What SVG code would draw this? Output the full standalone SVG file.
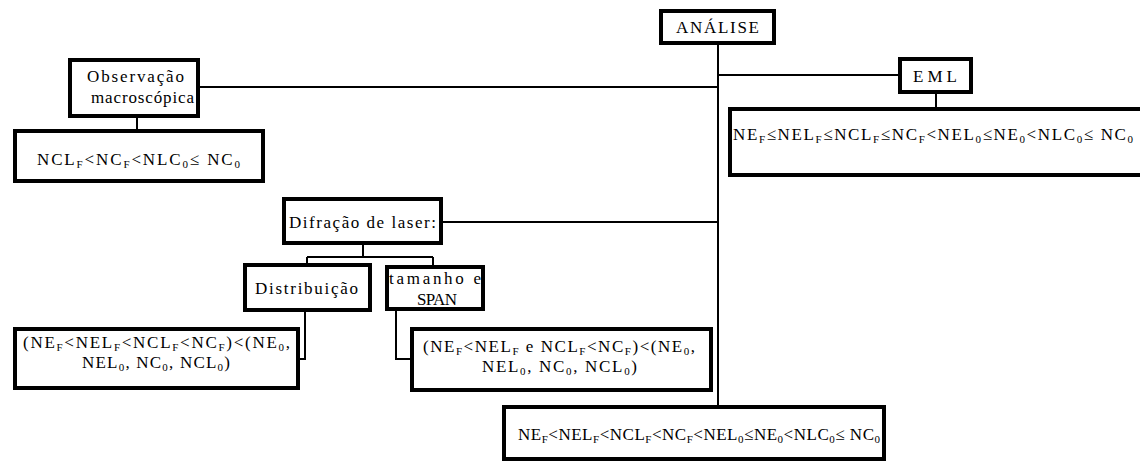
<svg xmlns="http://www.w3.org/2000/svg" width="1140" height="464" viewBox="0 0 1140 464" font-family="'Liberation Serif', 'Times New Roman', 'DejaVu Serif', serif" font-size="17">
<style>
.box{fill:#fff;stroke:#000;stroke-width:4}
.ln{fill:none;stroke:#000;stroke-width:2}
text{font-family:'Liberation Serif','Times New Roman','DejaVu Serif',serif;font-size:17px;fill:#000}
.s{font-size:11px}
</style>
<rect width="1140" height="464" fill="#fff"/>
<g id="connectors">
<path class="ln" d="M718,45 V407" stroke-width="2.5"/>
<path class="ln" d="M200,87 H718"/>
<path class="ln" d="M718,75 H898"/>
<path class="ln" d="M443,222 H718"/>
<path class="ln" d="M137,118 V129"/>
<path class="ln" d="M936,94 V107"/>
<path class="ln" d="M363,245 V257 M307,257 H433 M307,257 V263 M433,257 V265"/>
<path class="ln" d="M305,312 V359 H300"/>
<path class="ln" d="M396,311 V359 H410"/>
</g>
<g id="analise">
<rect class="box" x="661" y="11" width="113" height="32"/>
<text x="676" y="33" textLength="83" lengthAdjust="spacing">ANÁLISE</text>
</g>
<g id="observacao">
<rect class="box" x="70" y="60" width="128" height="56"/>
<text x="87" y="82" textLength="97" lengthAdjust="spacing">Observação</text>
<text x="91" y="103" textLength="103" lengthAdjust="spacing">macroscópica</text>
</g>
<g id="obs-result">
<rect class="box" x="15" y="131" width="248" height="50"/>
<text x="37" y="165" textLength="203" lengthAdjust="spacing">NCL<tspan class="s" dy="3">F</tspan><tspan dy="-3">&lt;NC</tspan><tspan class="s" dy="3">F</tspan><tspan dy="-3">&lt;NLC</tspan><tspan class="s" dy="3">0</tspan><tspan dy="-3">≤ NC</tspan><tspan class="s" dy="3">0</tspan></text>
</g>
<g id="eml">
<rect class="box" x="900" y="59" width="71" height="33"/>
<text x="913" y="82" textLength="44" lengthAdjust="spacing">EML</text>
</g>
<g id="eml-result">
<rect class="box" x="730" y="109" width="420" height="66"/>
<text x="733" y="140" textLength="400" lengthAdjust="spacing">NE<tspan class="s" dy="3">F</tspan><tspan dy="-3">≤NEL</tspan><tspan class="s" dy="3">F</tspan><tspan dy="-3">≤NCL</tspan><tspan class="s" dy="3">F</tspan><tspan dy="-3">≤NC</tspan><tspan class="s" dy="3">F</tspan><tspan dy="-3">&lt;NEL</tspan><tspan class="s" dy="3">0</tspan><tspan dy="-3">≤NE</tspan><tspan class="s" dy="3">0</tspan><tspan dy="-3">&lt;NLC</tspan><tspan class="s" dy="3">0</tspan><tspan dy="-3">≤ NC</tspan><tspan class="s" dy="3">0</tspan></text>
</g>
<g id="difracao">
<rect class="box" x="284" y="199" width="157" height="44"/>
<text x="289" y="228" textLength="147" lengthAdjust="spacing">Difração de laser:</text>
</g>
<g id="distribuicao">
<rect class="box" x="245" y="265" width="125" height="45"/>
<text x="255" y="294" textLength="103" lengthAdjust="spacing">Distribuição</text>
</g>
<g id="tamanho">
<rect class="box" x="387" y="267" width="96" height="42"/>
<text x="389" y="284" textLength="92" lengthAdjust="spacing">tamanho e</text>
<text x="417" y="305" textLength="40" lengthAdjust="spacing">SPAN</text>
</g>
<g id="dist-result">
<rect class="box" x="15" y="329" width="283" height="59"/>
<text x="23" y="348" textLength="267" lengthAdjust="spacing">(NE<tspan class="s" dy="3">F</tspan><tspan dy="-3">&lt;NEL</tspan><tspan class="s" dy="3">F</tspan><tspan dy="-3">&lt;NCL</tspan><tspan class="s" dy="3">F</tspan><tspan dy="-3">&lt;NC</tspan><tspan class="s" dy="3">F</tspan><tspan dy="-3">)&lt;(NE</tspan><tspan class="s" dy="3">0</tspan><tspan dy="-3">,</tspan></text>
<text x="82" y="368" textLength="148" lengthAdjust="spacing">NEL<tspan class="s" dy="3">0</tspan><tspan dy="-3">, NC</tspan><tspan class="s" dy="3">0</tspan><tspan dy="-3">, NCL</tspan><tspan class="s" dy="3">0</tspan><tspan dy="-3">)</tspan></text>
</g>
<g id="tam-result">
<rect class="box" x="412" y="329" width="299" height="61"/>
<text x="423" y="352" textLength="272" lengthAdjust="spacing">(NE<tspan class="s" dy="3">F</tspan><tspan dy="-3">&lt;NEL</tspan><tspan class="s" dy="3">F</tspan><tspan dy="-3"> e NCL</tspan><tspan class="s" dy="3">F</tspan><tspan dy="-3">&lt;NC</tspan><tspan class="s" dy="3">F</tspan><tspan dy="-3">)&lt;(NE</tspan><tspan class="s" dy="3">0</tspan><tspan dy="-3">,</tspan></text>
<text x="482" y="372" textLength="155" lengthAdjust="spacing">NEL<tspan class="s" dy="3">0</tspan><tspan dy="-3">, NC</tspan><tspan class="s" dy="3">0</tspan><tspan dy="-3">, NCL</tspan><tspan class="s" dy="3">0</tspan><tspan dy="-3">)</tspan></text>
</g>
<g id="final-result">
<rect class="box" x="504" y="407" width="380" height="52"/>
<text x="518" y="440" textLength="362" lengthAdjust="spacing">NE<tspan class="s" dy="3">F</tspan><tspan dy="-3">&lt;NEL</tspan><tspan class="s" dy="3">F</tspan><tspan dy="-3">&lt;NCL</tspan><tspan class="s" dy="3">F</tspan><tspan dy="-3">&lt;NC</tspan><tspan class="s" dy="3">F</tspan><tspan dy="-3">&lt;NEL</tspan><tspan class="s" dy="3">0</tspan><tspan dy="-3">≤NE</tspan><tspan class="s" dy="3">0</tspan><tspan dy="-3">&lt;NLC</tspan><tspan class="s" dy="3">0</tspan><tspan dy="-3">≤ NC</tspan><tspan class="s" dy="3">0</tspan></text>
</g>
</svg>
